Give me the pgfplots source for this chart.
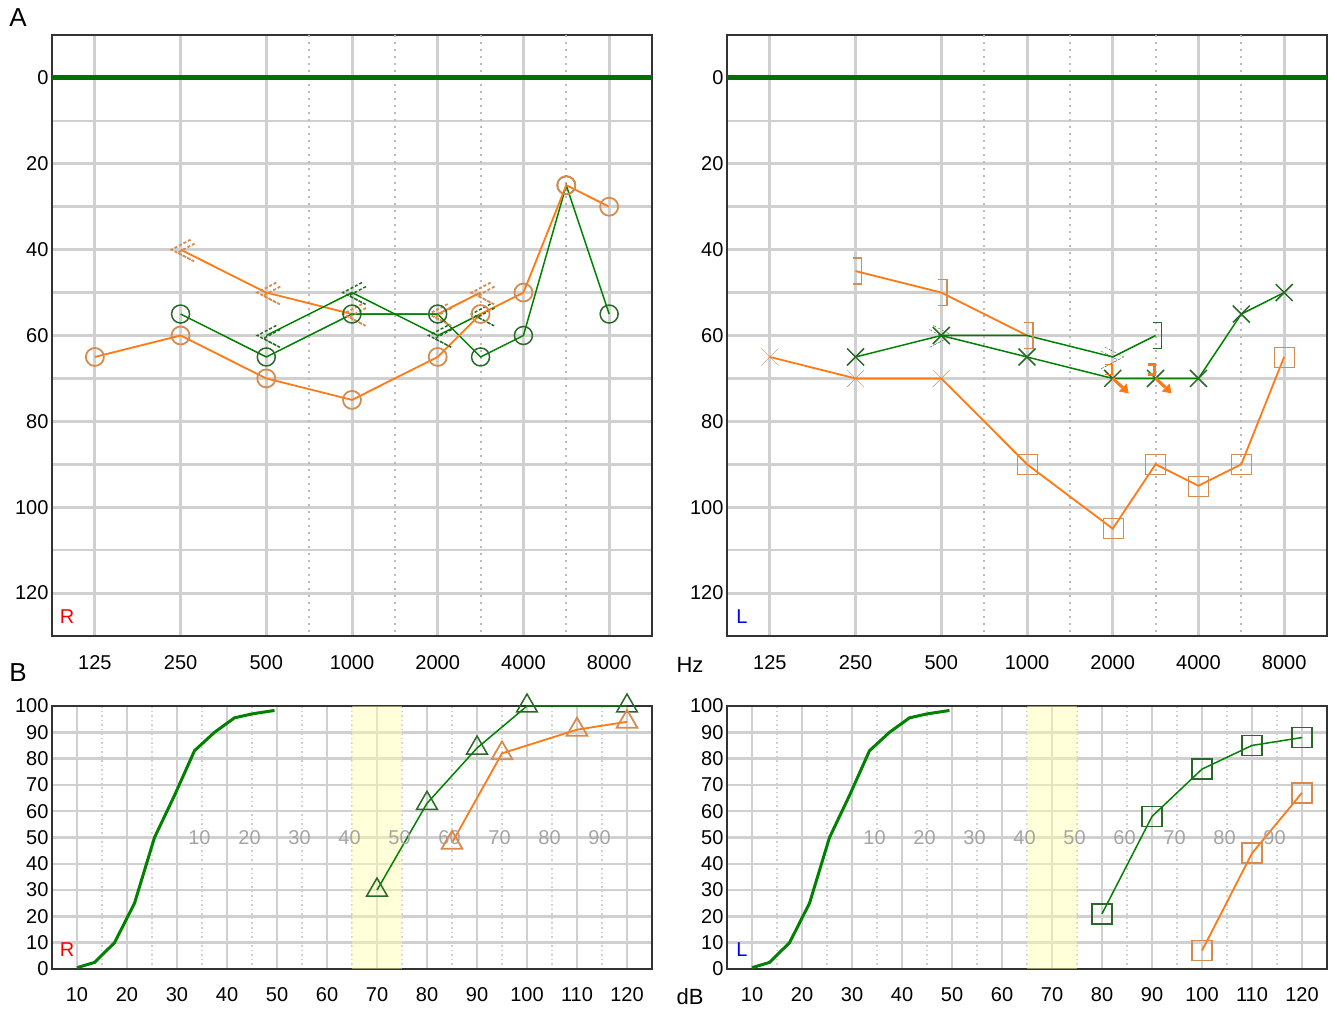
\documentclass[border=0pt]{standalone}
\usepackage{fontspec}
\setmainfont{Liberation Sans}
\usepackage{pgfplots}
\pgfplotsset{compat=1.18}

\definecolor{ol}{RGB}{255,122,20}
\definecolor{om}{RGB}{214,140,80}
\definecolor{gl}{RGB}{0,130,0}
\definecolor{gm}{RGB}{40,105,40}
\definecolor{zg}{RGB}{0,112,0}
\definecolor{gridc}{RGB}{208,208,208}
\definecolor{bandc}{RGB}{255,255,170}
\definecolor{seclab}{RGB}{165,165,165}

% "<<" right bone conduction (dashed double)
\pgfdeclareplotmark{bcR}{%
  \pgfsetdash{{3pt}{2pt}}{0pt}%
  \pgfpathmoveto{\pgfqpoint{10pt}{10pt}}%
  \pgfpathlineto{\pgfqpoint{-9pt}{0pt}}%
  \pgfpathlineto{\pgfqpoint{10pt}{-10pt}}%
  \pgfpathmoveto{\pgfqpoint{14pt}{6pt}}%
  \pgfpathlineto{\pgfqpoint{-3pt}{-3pt}}%
  \pgfpathlineto{\pgfqpoint{14pt}{-12pt}}%
  \pgfusepathqstroke}
% ">>" left bone conduction
\pgfdeclareplotmark{bcL}{%
  \pgfsetdash{{3pt}{2pt}}{0pt}%
  \pgfpathmoveto{\pgfqpoint{-8pt}{10pt}}%
  \pgfpathlineto{\pgfqpoint{11pt}{0pt}}%
  \pgfpathlineto{\pgfqpoint{-8pt}{-10pt}}%
  \pgfpathmoveto{\pgfqpoint{-12pt}{6pt}}%
  \pgfpathlineto{\pgfqpoint{5pt}{-3pt}}%
  \pgfpathlineto{\pgfqpoint{-12pt}{-12pt}}%
  \pgfusepathqstroke}
% "]" masked left bone conduction
\pgfdeclareplotmark{brk}{%
  \pgfpathmoveto{\pgfqpoint{-3pt}{13pt}}%
  \pgfpathlineto{\pgfqpoint{6pt}{13pt}}%
  \pgfpathlineto{\pgfqpoint{6pt}{-13pt}}%
  \pgfpathlineto{\pgfqpoint{-3pt}{-13pt}}%
  \pgfusepathqstroke}
% no response: small bracket + arrow
\pgfdeclareplotmark{nrL}{%
  \pgfpathmoveto{\pgfqpoint{-8pt}{14pt}}%
  \pgfpathlineto{\pgfqpoint{-1pt}{14pt}}%
  \pgfpathlineto{\pgfqpoint{-1pt}{4pt}}%
  \pgfpathlineto{\pgfqpoint{-8pt}{4pt}}%
  \pgfusepathqstroke
  \pgfsetlinewidth{3pt}%
  \pgfpathmoveto{\pgfqpoint{0pt}{0pt}}%
  \pgfpathlineto{\pgfqpoint{10pt}{-9pt}}%
  \pgfusepathqstroke
  \pgfpathmoveto{\pgfqpoint{16pt}{-15pt}}%
  \pgfpathlineto{\pgfqpoint{14pt}{-5pt}}%
  \pgfpathlineto{\pgfqpoint{6pt}{-13pt}}%
  \pgfpathclose
  \pgfusepathqfill}

\pgfplotsset{
  base/.style={
    scale only axis, clip=false,
    axis line style={black!80, line width=1.5pt},
    major tick length=0pt, minor tick length=0pt,
    tick label style={font=\fontsize{20}{24}\selectfont},
    /pgf/number format/assume math mode=true,
    grid=both,
  },
  aud/.style={
    base, width=600pt, height=601pt,
    xmin=-0.5, xmax=6.5, ymin=-10, ymax=130, y dir=reverse,
    xtick={0,...,6}, xticklabels={125,250,500,1000,2000,4000,8000},
    ytick={0,20,...,120}, minor ytick={10,30,...,110},
    major grid style={gridc, line width=3pt},
    minor grid style={gridc, line width=2.5pt},
    extra x ticks={2.5,3.5,4.5,5.5}, extra x tick labels={},
    extra x tick style={grid=major, major grid style={gridc!90!black, line width=2pt, dash pattern=on 2pt off 5pt}},
    xticklabel style={anchor=center, yshift=-27pt},
  },
  spe/.style={
    base, width=600pt, height=263pt,
    xmin=5, xmax=125, ymin=0, ymax=100,
    xtick={10,20,...,120}, ytick={0,10,...,100},
    minor xtick={15,25,...,115},
    major grid style={gridc, line width=2.5pt},
    minor grid style={gridc, line width=1.2pt, dash pattern=on 1.5pt off 3pt},
    xticklabel style={anchor=center, yshift=-26pt},
  },
  acline/.style={line width=1.8pt},
  mk/.style={mark options={solid, line width=1.6pt, fill=none}},
}

\begin{document}
\begin{tikzpicture}
\useasboundingbox (0pt,0pt) rectangle (1337pt,1011pt);

% ---------------- A: right ear ----------------
\begin{axis}[aud, at={(52pt,375pt)}, anchor=south west]
\addplot[zg, line width=5pt, forget plot] coordinates {(-0.5,0) (6.5,0)};
% orange bone conduction
\addplot[ol, acline, mark=bcR, mk, mark options={om}] coordinates {(1,40)(2,50)(3,55)(4,55)(4.5,50)};
% green bone conduction
\addplot[gl, line width=1.5pt, mark=bcR, mk, mark options={gm}] coordinates {(2,60)(3,50)(4,60)(4.5,55)};
% green air conduction
\addplot[gl, line width=1.5pt, mark=o, mark size=9pt, mk, mark options={gm}] coordinates {(1,55)(2,65)(3,55)(4,55)(4.5,65)(5,60)(5.5,25)(6,55)};
% orange air conduction
\addplot[ol, acline, mark=o, mark size=9pt, mk, mark options={om}] coordinates {(0,65)(1,60)(2,70)(3,75)(4,65)(4.5,55)(5,50)(5.5,25)(6,30)};
\end{axis}

% ---------------- A: left ear ----------------
\begin{axis}[aud, at={(727pt,375pt)}, anchor=south west]
\addplot[zg, line width=5pt, forget plot] coordinates {(-0.5,0) (6.5,0)};
% orange air conduction line
\addplot[ol, acline] coordinates {(0,65)(1,70)(2,70)(3,90)(4,105)(4.5,90)(5,95)(5.5,90)(6,65)};
\addplot[only marks, mark=x, mark size=12pt, mk, mark options={om}] coordinates {(0,65)(1,70)(2,70)};
\addplot[only marks, mark=square, mark size=10pt, mk, mark options={om}] coordinates {(3,90)(4,105)(4.5,90)(5,95)(5.5,90)(6,65)};
% orange masked bone conduction
\addplot[ol, acline, mark=brk, mk, mark options={om}] coordinates {(1,45)(2,50)(3,60)};
% green air conduction
\addplot[gl, line width=1.5pt, mark=x, mark size=12pt, mk, mark options={gm}] coordinates {(1,65)(2,60)(3,65)(4,70)(4.5,70)(5,70)(5.5,55)(6,50)};
% green bone conduction
\addplot[gl, line width=1.5pt] coordinates {(2,60)(3,60)(4,65)(4.5,60)};
\addplot[only marks, mark=bcL, mk, mark options={gm}] coordinates {(2,60)(4,65)};
\addplot[only marks, mark=brk, mk, mark options={gm}] coordinates {(4.5,60)};
% no response
\addplot[only marks, mark=nrL, mark options={solid, line width=1.6pt, draw=ol, fill=ol}] coordinates {(4,70)(4.5,70)};
\end{axis}

% ---------------- B: right ear ----------------
\begin{axis}[spe, at={(52pt,42pt)}, anchor=south west]
\addplot[draw=none, fill=bandc, fill opacity=0.45, forget plot] coordinates {(65,0)(75,0)(75,100)(65,100)} -- cycle;
\addplot[gl, line width=3pt] coordinates {(10,0.5)(13.5,2.5)(17.5,10)(21.5,25)(25.5,50)(29.5,66)(33.5,83)(37.5,90)(41.5,95.5)(45,97)(49.5,98.3)};
\addplot[gl, line width=1.5pt, mark=triangle, mark size=12pt, mk, mark options={gm}] coordinates {(70,30)(80,63)(90,84)(100,100)(120,100)};
\addplot[ol, acline, mark=triangle, mark size=12pt, mk, mark options={om}] coordinates {(85,48)(95,82)(110,91)(120,94)};
\foreach \v [count=\i] in {10,20,...,90} {
  \edef\tmp{\noexpand\node[seclab, font=\noexpand\fontsize{20}{24}\noexpand\selectfont] at (axis cs:{24.5+10*\i},50) {\v};}
  \tmp
}
\end{axis}

% ---------------- B: left ear ----------------
\begin{axis}[spe, at={(727pt,42pt)}, anchor=south west]
\addplot[draw=none, fill=bandc, fill opacity=0.45, forget plot] coordinates {(65,0)(75,0)(75,100)(65,100)} -- cycle;
\addplot[gl, line width=3pt] coordinates {(10,0.5)(13.5,2.5)(17.5,10)(21.5,25)(25.5,50)(29.5,66)(33.5,83)(37.5,90)(41.5,95.5)(45,97)(49.5,98.3)};
\addplot[gl, line width=1.5pt, mark=square, mark size=10pt, mk, mark options={gm}] coordinates {(80,21)(90,58)(100,76)(110,85)(120,88)};
\addplot[ol, acline, mark=square, mark size=10pt, mk, mark options={om}] coordinates {(100,7)(110,44)(120,67)};
\foreach \v [count=\i] in {10,20,...,90} {
  \edef\tmp{\noexpand\node[seclab, font=\noexpand\fontsize{20}{24}\noexpand\selectfont] at (axis cs:{24.5+10*\i},50) {\v};}
  \tmp
}
\end{axis}

% labels
\node[font=\fontsize{26}{30}\selectfont] at (18pt,993pt) {A};
\node[font=\fontsize{26}{30}\selectfont] at (18pt,338pt) {B};
\node[font=\fontsize{22}{26}\selectfont] at (690pt,346pt) {Hz};
\node[font=\fontsize{22}{26}\selectfont] at (690pt,14pt) {dB};
\node[red, font=\fontsize{20}{24}\selectfont] at (67pt,394pt) {R};
\node[blue, font=\fontsize{20}{24}\selectfont] at (742pt,394pt) {L};
\node[red, font=\fontsize{20}{24}\selectfont] at (67pt,61pt) {R};
\node[blue, font=\fontsize{20}{24}\selectfont] at (742pt,61pt) {L};
\end{tikzpicture}
\end{document}
